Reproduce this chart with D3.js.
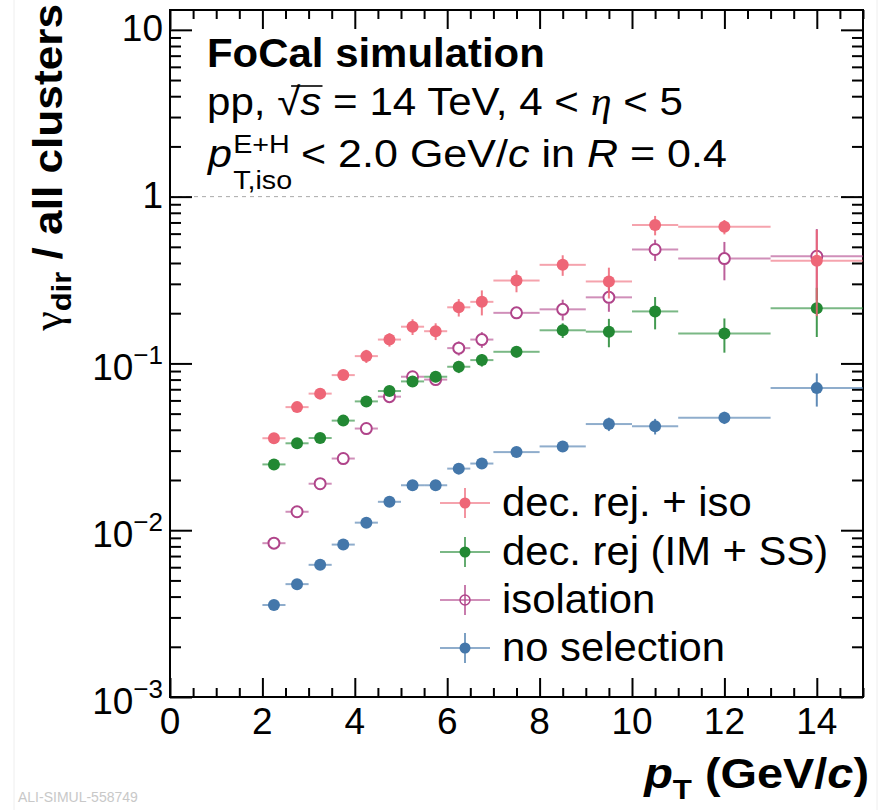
<!DOCTYPE html>
<html><head><meta charset="utf-8">
<script src="https://cdn.jsdelivr.net/npm/d3@7"></script>
<style>
body{margin:0;background:#fff}
svg{display:block}
text{font-family:"Liberation Sans",Arial,Helvetica,sans-serif;fill:#000}
</style>
</head><body>
<svg id="c" width="881" height="810"></svg>
<script>
// ---------------- data ----------------
const binEdges = [2,2.5,3,3.5,4,4.5,5,5.5,6,6.5,7,8,9,10,11,13,15];

const decRejIso    = [0.0356,0.0547,0.0659,0.0851,0.1106,0.139,0.166,0.156,0.217,0.234,0.314,0.390,0.310,0.676,0.659,0.412];
const decRejIsoErr = [0.0018,0.003,0.004,0.006,0.010,0.013,0.018,0.018,0.026,0.040,0.047,0.055,0.065,0.090,0.065,0.22];

const decRej       = [0.0248,0.0332,0.0357,0.0454,0.0592,0.0683,0.078,0.0832,0.0955,0.1047,0.1174,0.158,0.155,0.205,0.151,0.214];
const decRejErr    = [0.0012,0.0017,0.0018,0.0025,0.0035,0.0045,0.0055,0.006,0.008,0.009,0.009,0.016,0.030,0.045,0.035,0.07];

const isolation    = [0.00836,0.0129,0.0190,0.0269,0.0407,0.0632,0.0832,0.080,0.1235,0.139,0.201,0.211,0.249,0.482,0.425,0.439];
const isolationErr = [0.0003,0.0006,0.001,0.0015,0.0025,0.004,0.006,0.006,0.012,0.015,0.015,0.030,0.045,0.070,0.110,0.20];

const noSelection    = [0.00356,0.00475,0.0062,0.0082,0.0111,0.0148,0.0186,0.0186,0.0234,0.0251,0.0294,0.0318,0.0433,0.0420,0.0473,0.0711];
const noSelectionErr = [0.0001,0.00015,0.0002,0.0003,0.0004,0.0006,0.0008,0.0008,0.001,0.0012,0.0014,0.0018,0.004,0.0045,0.004,0.016];

const seriesNames  = ["dec. rej. + iso","dec. rej (IM + SS)","isolation","no selection"];
const seriesColors = ["#EE6677","#228833","#B0448A","#4477AA"];
const seriesOpen   = [false,false,true,false];

const xMajorTicks = [0,2,4,6,8,10,12,14];
const xTickLabels = ["0","2","4","6","8","10","12","14"];
const yDecades    = [1e-3,1e-2,1e-1,1,10];
const yTickBase   = ["10","10","10","1","10"];
const yTickExp    = ["\u22123","\u22122","\u22121","",""];

// ---------------- layout ----------------
const L=170, R=863, T=10, B=697;
const svg = d3.select("#c");
const x = d3.scaleLinear().domain([0,15]).range([L,R]);
const y = d3.scaleLog().domain([1e-3,13.15]).range([B,T]);

function fitX(sel, x0, w){
  const bb = sel.node().getBBox();
  const k = w / bb.width;
  sel.attr("transform", `translate(${x0},0) scale(${k},1) translate(${-bb.x},0)`);
}

svg.append("line").attr("x1",14).attr("x2",14).attr("y1",0).attr("y2",810).attr("stroke","#eee");
svg.append("line").attr("x1",877).attr("x2",877).attr("y1",0).attr("y2",810).attr("stroke","#eee");

svg.append("line").attr("x1",L).attr("x2",R).attr("y1",y(1)).attr("y2",y(1))
  .attr("stroke","#aaa").attr("stroke-width",1).attr("stroke-dasharray","4,4");

// ---------------- axes ----------------
const xMinor = d3.range(0,15.001,0.5).filter(v=>!xMajorTicks.includes(v));
const yMinor = [];
yDecades.forEach(d=>{ for(let k=2;k<=9;k++){ const v=d*k; if(v<13.15) yMinor.push(v);} });

function styleAxis(g){ g.select(".domain").remove(); g.selectAll("line").attr("stroke","#000").attr("stroke-width",2); g.selectAll("text").remove(); }

svg.append("g").attr("transform",`translate(0,${B})`).call(d3.axisBottom(x).tickValues(xMajorTicks).tickSize(-19)).call(styleAxis);
svg.append("g").attr("transform",`translate(0,${B})`).call(d3.axisBottom(x).tickValues(xMinor).tickSize(-9)).call(styleAxis);
svg.append("g").attr("transform",`translate(0,${T})`).call(d3.axisTop(x).tickValues(xMajorTicks).tickSize(-19)).call(styleAxis);
svg.append("g").attr("transform",`translate(0,${T})`).call(d3.axisTop(x).tickValues(xMinor).tickSize(-9)).call(styleAxis);
svg.append("g").attr("transform",`translate(${L},0)`).call(d3.axisLeft(y).tickValues(yDecades).tickSize(-22)).call(styleAxis);
svg.append("g").attr("transform",`translate(${L},0)`).call(d3.axisLeft(y).tickValues(yMinor).tickSize(-11)).call(styleAxis);
svg.append("g").attr("transform",`translate(${R},0)`).call(d3.axisRight(y).tickValues(yDecades).tickSize(-22)).call(styleAxis);
svg.append("g").attr("transform",`translate(${R},0)`).call(d3.axisRight(y).tickValues(yMinor).tickSize(-11)).call(styleAxis);

svg.append("rect").attr("x",L).attr("y",T).attr("width",R-L).attr("height",B-T)
  .attr("fill","none").attr("stroke","#000").attr("stroke-width",2);

svg.append("g").selectAll("text").data(xMajorTicks).join("text")
  .attr("x",d=>x(d)).attr("y",734).attr("text-anchor","middle").attr("font-size",37)
  .text((d,i)=>xTickLabels[i]);

yDecades.forEach((d,i)=>{
  const t = svg.append("text").attr("x",163).attr("text-anchor","end").attr("font-size",37)
    .attr("y", y(d) + (yTickExp[i] ? 17 : 11));
  t.append("tspan").text(yTickBase[i]);
  if(yTickExp[i]) t.append("tspan").attr("font-size",26).attr("dy",-16).text(yTickExp[i]);
});

// ---------------- data points ----------------
const allSeries = [
  {vals:decRejIso, errs:decRejIsoErr},
  {vals:decRej, errs:decRejErr},
  {vals:isolation, errs:isolationErr},
  {vals:noSelection, errs:noSelectionErr}
].map((s,i)=>({...s, name:seriesNames[i], color:seriesColors[i], open:seriesOpen[i]}));

const r = 6;
const drawOrder = [3,2,1,0];
drawOrder.forEach(si=>{
  const s = allSeries[si];
  const g = svg.append("g");
  s.vals.forEach((v,i)=>{
    const lo=binEdges[i], hi=binEdges[i+1], c=(lo+hi)/2;
    const cx=x(c), cy=y(v);
    const xl=x(lo), xh=x(hi);
    const yu=y(v+s.errs[i]), yd=y(Math.max(v-s.errs[i],1e-4));
    const gap = s.open ? r : 0;
    const hl = g.append("g").attr("stroke",s.color).attr("stroke-width",2).attr("stroke-opacity",0.6);
    hl.append("line").attr("x1",xl).attr("x2",cx-gap).attr("y1",cy).attr("y2",cy);
    hl.append("line").attr("x1",cx+gap).attr("x2",xh).attr("y1",cy).attr("y2",cy);
    const vl = g.append("g").attr("stroke",s.color).attr("stroke-width",2).attr("stroke-opacity",0.85);
    if(cy-yu>gap) vl.append("line").attr("x1",cx).attr("x2",cx).attr("y1",yu).attr("y2",cy-gap);
    if(yd-cy>gap) vl.append("line").attr("x1",cx).attr("x2",cx).attr("y1",cy+gap).attr("y2",Math.min(yd,B));
  });
  g.selectAll("circle").data(s.vals).join("circle")
    .attr("cx",(v,i)=>x((binEdges[i]+binEdges[i+1])/2)).attr("cy",v=>y(v))
    .attr("r", s.open ? r-0.5 : r)
    .attr("fill", s.open ? "none" : s.color)
    .attr("stroke", s.open ? s.color : "none")
    .attr("stroke-width", 2);
});

// ---------------- legend ----------------
const legY = [503,552,600,648];
allSeries.forEach((s,i)=>{
  const cy = legY[i], cx = 465;
  const g = svg.append("g");
  g.append("line").attr("x1",440).attr("x2",490).attr("y1",cy).attr("y2",cy)
    .attr("stroke",s.color).attr("stroke-width",2).attr("stroke-opacity",0.6);
  g.append("line").attr("x1",cx).attr("x2",cx).attr("y1",cy-15).attr("y2",cy+15)
    .attr("stroke",s.color).attr("stroke-width",2).attr("stroke-opacity",0.7);
  g.append("circle").attr("cx",cx).attr("cy",cy).attr("r",s.open?5:5.5)
    .attr("fill",s.open?"none":s.color).attr("stroke",s.open?s.color:"none").attr("stroke-width",1.5);
  svg.append("text").attr("x",502).attr("y",cy+13).attr("font-size",40)
    .attr("transform",`translate(502,0) scale(1.045,1) translate(-502,0)`).text(s.name);
});

// ---------------- annotation text ----------------
const t1 = svg.append("text").attr("x",207).attr("y",67).attr("font-size",40).attr("font-weight","bold").text("FoCal simulation");
fitX(t1, 207, 338);

const g2 = svg.append("g");
const l2 = g2.append("text").attr("x",207).attr("y",115).attr("font-size",39);
l2.append("tspan").text("pp, ");
l2.append("tspan").text("\u221A");
l2.append("tspan").attr("font-style","italic").text("s");
l2.append("tspan").text(" = 14 TeV, 4 < ");
l2.append("tspan").attr("font-family","Liberation Serif, serif").attr("font-style","italic").text("\u03B7");
l2.append("tspan").text(" < 5");
{
  const node = l2.node();
  const ext = node.getExtentOfChar(5);
  const rad = node.getExtentOfChar(4);
  g2.append("line").attr("x1",rad.x+rad.width*0.6).attr("x2",ext.x+ext.width+1)
    .attr("y1",86).attr("y2",86).attr("stroke","#000").attr("stroke-width",1.6);
}
fitX(g2, 207, 476);

const g3 = svg.append("g");
const pT = g3.append("text").attr("x",207).attr("y",167).attr("font-size",39).attr("font-style","italic").text("p");
const pw = pT.node().getComputedTextLength();
const supT = g3.append("text").attr("x",207+pw+1).attr("y",153).attr("font-size",26).text("E+H");
const subT = g3.append("text").attr("x",207+pw+1).attr("y",189).attr("font-size",26).text("T,iso");
const after = 207+pw+1+Math.max(supT.node().getComputedTextLength(), subT.node().getComputedTextLength()) + 8;
const l3 = g3.append("text").attr("x",after).attr("y",167).attr("font-size",39);
l3.append("tspan").text("< 2.0 GeV/");
l3.append("tspan").attr("font-style","italic").text("c");
l3.append("tspan").text(" in ");
l3.append("tspan").attr("font-style","italic").text("R");
l3.append("tspan").text(" = 0.4");
fitX(g3, 207, 520);

const xg = svg.append("g");
const xt = xg.append("text").attr("x",0).attr("y",0).attr("text-anchor","end").attr("font-size",42).attr("font-weight","bold");
xt.append("tspan").attr("font-style","italic").text("p");
xt.append("tspan").attr("font-size",28).attr("dy",11).text("T");
xt.append("tspan").attr("dy",-11).text(" (GeV/");
xt.append("tspan").attr("font-style","italic").text("c");
xt.append("tspan").text(")");
{
  const w = xt.node().getBBox().width;
  xg.attr("transform",`translate(869,788) scale(${226/w},1)`);
}

const yg = svg.append("g");
const yt = yg.append("text").attr("x",0).attr("y",0).attr("text-anchor","end").attr("font-size",40).attr("font-weight","bold");
yt.append("tspan").attr("font-weight","normal").attr("font-family","Liberation Serif, serif").text("\u03B3");
yt.append("tspan").attr("font-size",28).attr("dy",9).text("dir");
yt.append("tspan").attr("dy",-9).text(" / all clusters");
{
  const w = yt.node().getBBox().width;
  yg.attr("transform",`translate(62,4) rotate(-90) scale(${328/w},1)`);
}

svg.append("text").attr("x",18).attr("y",802).attr("font-size",14).style("fill","#c8c8c8").text("ALI-SIMUL-558749");
</script>
</body></html>
